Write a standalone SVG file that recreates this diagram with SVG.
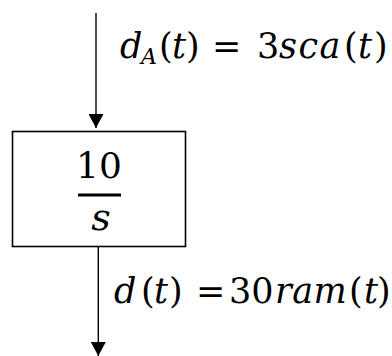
<svg xmlns="http://www.w3.org/2000/svg" width="392" height="356" viewBox="0 0 392 356">
<style>
.ln{stroke:#000;stroke-width:1.4;fill:none}
.box{stroke:#000;stroke-width:1.6;fill:#fff}
.t{font-family:"DejaVu Serif","Liberation Serif",serif;font-size:35px;fill:#000}
.f{font-size:36px}
.fs{font-size:38px}
.i{font-style:italic}
.sub{font-size:22px}
.w{letter-spacing:1.5px}
.w1{letter-spacing:0.5px}
</style>
<defs>
<marker id="ah" markerUnits="userSpaceOnUse" markerWidth="16" markerHeight="15" refX="15" refY="8" orient="auto" viewBox="0 0 16 16">
<path d="M0,0 L15,8 L0,16 Z" fill="#000"/>
</marker>
</defs>
<g id="connectors">
<line class="ln" x1="96" y1="13" x2="96" y2="128" marker-end="url(#ah)"/>
<line class="ln" x1="98.3" y1="247" x2="98.3" y2="356" marker-end="url(#ah)"/>
</g>
<g id="block">
<rect class="box" x="12.5" y="131.5" width="173" height="115"/>
<text class="t f" x="99" y="178" text-anchor="middle">10</text>
<line x1="78" y1="195" x2="121" y2="195" stroke="#000" stroke-width="3.2"/>
<text class="t fs i" x="101" y="230" text-anchor="middle">s</text>
</g>
<g id="label-in">
<text class="t" y="58"><tspan class="i" x="120">d</tspan><tspan class="i sub" x="141" y="64">A</tspan><tspan x="159" y="58">(</tspan><tspan class="i" x="172">t</tspan><tspan x="186">)</tspan><tspan x="212">=</tspan><tspan x="257">3</tspan><tspan class="i w" x="279">sca</tspan><tspan x="344">(</tspan><tspan class="i" x="358">t</tspan><tspan x="374">)</tspan></text>
</g>
<g id="label-out">
<text class="t" y="303"><tspan class="i" x="114">d</tspan><tspan x="141">(</tspan><tspan class="i" x="154">t</tspan><tspan x="169">)</tspan><tspan x="196">=</tspan><tspan x="229">30</tspan><tspan class="i w1" x="275">ram</tspan><tspan x="349">(</tspan><tspan class="i" x="364">t</tspan><tspan x="377">)</tspan></text>
</g>
</svg>
